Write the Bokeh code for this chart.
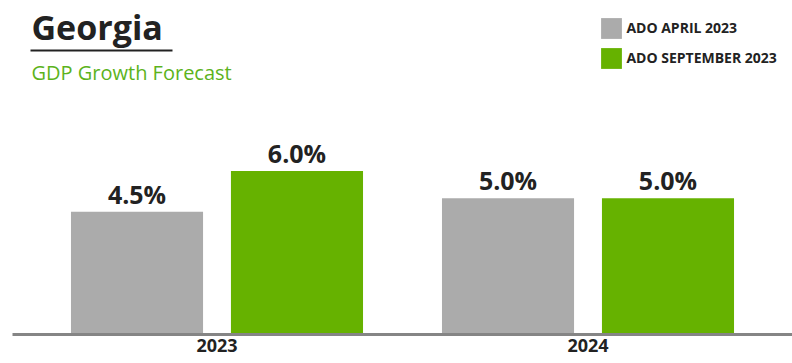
from bokeh.plotting import figure
from bokeh.models import (ColumnDataSource, FactorRange, Range1d, LabelSet, Label,
                          BoxAnnotation, Legend, LegendItem)
from bokeh.core.properties import value
from bokeh.transform import dodge
from bokeh.embed import file_html
from bokeh.resources import INLINE

# ---- data ----
years = ["2023", "2024"]
series_names = ["ADO APRIL 2023", "ADO SEPTEMBER 2023"]
april_2023 = [4.5, 5.0]
september_2023 = [6.0, 5.0]
title_text = "Georgia"
subtitle_text = "GDP Growth Forecast"

GRAY = "#ababab"
GREEN = "#66b200"
DARK = "#222222"
FONT = "Open Sans"

W, H = 792, 363
LEFT = 12
BOTTOM = 29
FB = H - BOTTOM  # frame bottom in page pixels


def sy(page_y):
    return FB - page_y


def sx(page_x):
    return page_x - LEFT


src_a = ColumnDataSource(dict(year=years, val=april_2023,
                              txt=[f"{v:.1f}%" for v in april_2023]))
src_s = ColumnDataSource(dict(year=years, val=september_2023,
                              txt=[f"{v:.1f}%" for v in september_2023]))

p = figure(width=W, height=H, output_backend="svg", toolbar_location=None,
           x_range=FactorRange(factors=years, range_padding=0.0512,
                               range_padding_units="absolute"),
           y_range=Range1d(0, 12.25),
           min_border_left=LEFT, min_border_right=0, min_border_top=0,
           min_border_bottom=BOTTOM)
p.outline_line_color = None
p.background_fill_color = "white"
p.border_fill_color = "white"
p.xgrid.visible = False
p.ygrid.visible = False
p.yaxis.visible = False

off = 0.2156
bw = 0.356
r1 = p.vbar(x=dodge("year", -off, range=p.x_range), top="val", width=bw,
            source=src_a, fill_color=GRAY, line_color=None)
r2 = p.vbar(x=dodge("year", off, range=p.x_range), top="val", width=bw,
            source=src_s, fill_color=GREEN, line_color=None)

for src, dx in ((src_a, -off), (src_s, off)):
    p.add_layout(LabelSet(x=dodge("year", dx, range=p.x_range), y="val", text="txt",
                          source=src, y_offset=8, text_align="center",
                          text_baseline="alphabetic", text_font=value(FONT),
                          text_font_style="bold", text_font_size="25px",
                          text_color=DARK))

ax = p.xaxis[0]
ax.axis_line_color = "#858585"
ax.axis_line_width = 3
ax.major_tick_line_color = None
ax.minor_tick_line_color = None
ax.major_tick_out = 0
ax.major_tick_in = 0
ax.major_label_standoff = 4
ax.major_label_text_font = FONT
ax.major_label_text_font_style = "bold"
ax.major_label_text_font_size = "18px"
ax.major_label_text_color = DARK

p.add_layout(Label(x=sx(31), y=sy(26.5), x_units="screen", y_units="screen",
                   text=title_text, text_font=FONT, text_font_style="bold",
                   text_font_size="34px", text_color=DARK,
                   text_baseline="alphabetic", text_align="left"))
p.add_layout(BoxAnnotation(left=sx(30), right=sx(172), bottom=sy(51), top=sy(49),
                           left_units="screen", right_units="screen",
                           bottom_units="screen", top_units="screen",
                           fill_color=DARK, fill_alpha=1, line_color=None))
p.add_layout(Label(x=sx(31), y=sy(72.2), x_units="screen", y_units="screen",
                   text=subtitle_text, text_font=FONT, text_font_size="20px",
                   text_color="#5cb31c", text_baseline="alphabetic",
                   text_align="left"))

legend = Legend(items=[LegendItem(label=series_names[0], renderers=[r1]),
                       LegendItem(label=series_names[1], renderers=[r2])],
                location=(sx(598.4), sy(70.6)), orientation="vertical",
                glyph_width=26, glyph_height=26, label_height=26,
                spacing=4, padding=0, margin=0, label_standoff=2,
                border_line_alpha=0, background_fill_alpha=0,
                label_text_font=FONT, label_text_font_style="bold",
                label_text_font_size="14px", label_text_color=DARK)
p.add_layout(legend)

open("out.html", "w").write(file_html(p, INLINE))
